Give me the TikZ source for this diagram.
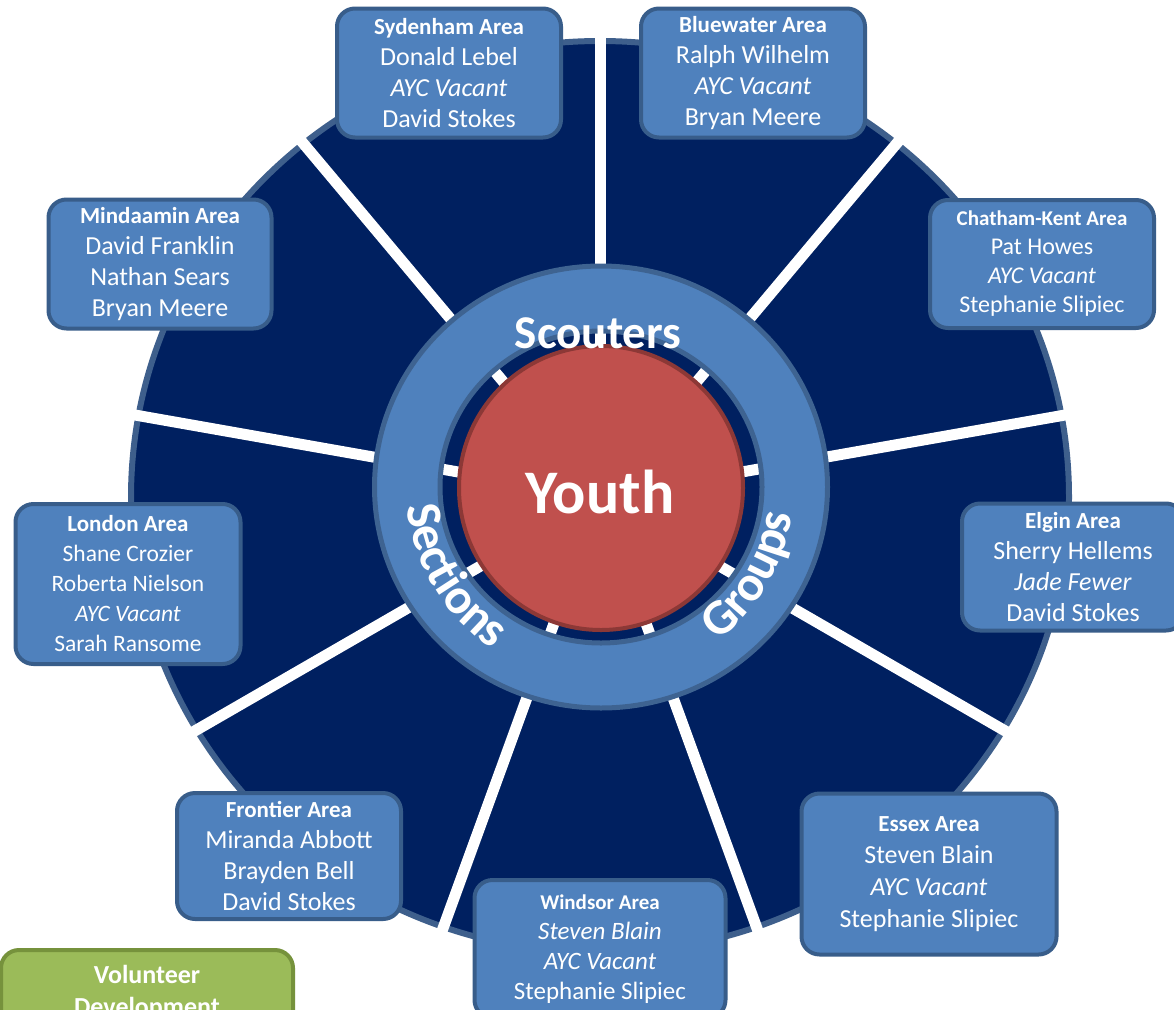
\documentclass[tikz,border=0pt]{standalone}
\usepackage{fontspec}
\setmainfont{Carlito}
\usetikzlibrary{positioning,decorations.text}
\definecolor{navyfill}{HTML}{002060}
\definecolor{navyline}{HTML}{3E5F8C}
\definecolor{ringfill}{HTML}{4F81BD}
\definecolor{ringline}{HTML}{3E6391}
\definecolor{boxfill}{HTML}{4F81BD}
\definecolor{boxline}{HTML}{385D8A}
\definecolor{youthfill}{HTML}{C0504D}
\definecolor{youthline}{HTML}{8C3836}
\definecolor{greenfill}{HTML}{9BBB59}
\definecolor{greenline}{HTML}{76923C}
\newcommand{\areatitle}[2][23]{{\fontsize{#1}{31}\selectfont\bfseries #2}}
\newcommand{\ringfont}{\fontsize{50}{50}\selectfont\bfseries\color{white}}

\begin{document}
\begin{tikzpicture}[x=1pt, y=1pt,
    areabox/.style={draw=boxline, fill=boxfill, line width=4pt, rounded corners=18pt,
      text=white, align=center, inner sep=0pt, font=\fontsize{26}{31}\selectfont},
    gapline/.style={white, line width=11pt},
    bigword/.style={text=white, anchor=base, inner sep=0pt}]
	% We fix the page first
	\useasboundingbox[fill=white] (0,0) rectangle (1174,-1009);
	\coordinate (hub) at (600,-497);
	\coordinate (ringcentre) at (601,-487);
	% the dark wheel, cut into nine areas
	\draw [navyline, fill=navyfill, line width=6pt] (hub) ellipse [x radius=469pt, y radius=456pt];
	\begin{scope}
		\clip (hub) ellipse [x radius=473pt, y radius=460pt];
		\foreach \a in {90,50,...,-230}
			\draw [gapline] (hub) -- ++(\a:520pt);
	\end{scope}
	% the ring and the centre
	\draw [ringline, fill=ringfill, line width=5pt, even odd rule]
		(ringcentre) ellipse [x radius=226.5pt, y radius=221pt]
		(ringcentre) ellipse [x radius=161pt, y radius=156pt];
	\node [circle, draw=youthline, fill=youthfill, line width=4pt, minimum size=284pt, inner sep=0pt] (youth) at (601,-488) {};
	\node [bigword, font=\fontsize{62}{62}\selectfont\bfseries] (youthlabel) at (600,-513) {Youth};
	\node [bigword, font=\fontsize{47}{47}\selectfont\bfseries] (scouters) at (598,-348) {Scouters};
	\path [decorate, decoration={text along path, text align=center, text={|\ringfont|Sections}}]
		(ringcentre) ++(182:195pt) arc [start angle=182, end angle=240, radius=195pt];
	\path [decorate, decoration={text along path, text align=center, text={|\ringfont|Groups}}]
		(ringcentre) ++(-56:193pt) arc [start angle=-56, end angle=-5, radius=193pt];
	% Once the wheel is drawn, the area boxes go on top
	\node [areabox, minimum width=224pt, minimum height=129pt] (sydenham) at (449,-73)
		{\areatitle{Sydenham Area}\\Donald Lebel\\\textit{AYC Vacant}\\David Stokes};
	\node [areabox, minimum width=224pt, minimum height=129pt] (bluewater) at (753,-73)
		{\areatitle{Bluewater Area}\\Ralph Wilhelm\\\textit{AYC Vacant}\\Bryan Meere};
	\node [areabox, minimum width=224pt, minimum height=128pt, font=\fontsize{24}{29}\selectfont] (chatham) at (1042,-264)
		{\areatitle[21]{Chatham-Kent Area}\\Pat Howes\\\textit{AYC Vacant}\\Stephanie Slipiec};
	\node [areabox, minimum width=222pt, minimum height=127pt] (elgin) at (1073,-567)
		{\areatitle{Elgin Area}\\Sherry Hellems\\\textit{Jade Fewer}\\David Stokes};
	\node [areabox, minimum width=255pt, minimum height=161pt, font=\fontsize{26}{32}\selectfont] (essex) at (929,-874)
		{\areatitle{Essex Area}\\Steven Blain\\\textit{AYC Vacant}\\Stephanie Slipiec};
	\node [areabox, minimum width=251pt, minimum height=138pt, font=\fontsize{25}{30}\selectfont] (windsor) at (600,-949)
		{\areatitle[21]{Windsor Area}\\\textit{Steven Blain}\\\textit{AYC Vacant}\\Stephanie Slipiec};
	\node [areabox, minimum width=224pt, minimum height=126pt] (frontier) at (289,-856)
		{\areatitle{Frontier Area}\\Miranda Abbott\\Brayden Bell\\David Stokes};
	\node [areabox, minimum width=225pt, minimum height=160pt, font=\fontsize{23.5}{30}\selectfont] (london) at (128,-584)
		{\areatitle{London Area}\\Shane Crozier\\Roberta Nielson\\\textit{AYC Vacant}\\Sarah Ransome};
	\node [areabox, minimum width=223pt, minimum height=129pt] (mindaamin) at (160,-264)
		{\areatitle{Mindaamin Area}\\David Franklin\\Nathan Sears\\Bryan Meere};
	\node [areabox, draw=greenline, fill=greenfill, minimum width=292pt, minimum height=84pt, font=\fontsize{26}{32}\selectfont\bfseries] (volunteer) at (147,-992)
		{Volunteer\\Development};
\end{tikzpicture}
\end{document}
